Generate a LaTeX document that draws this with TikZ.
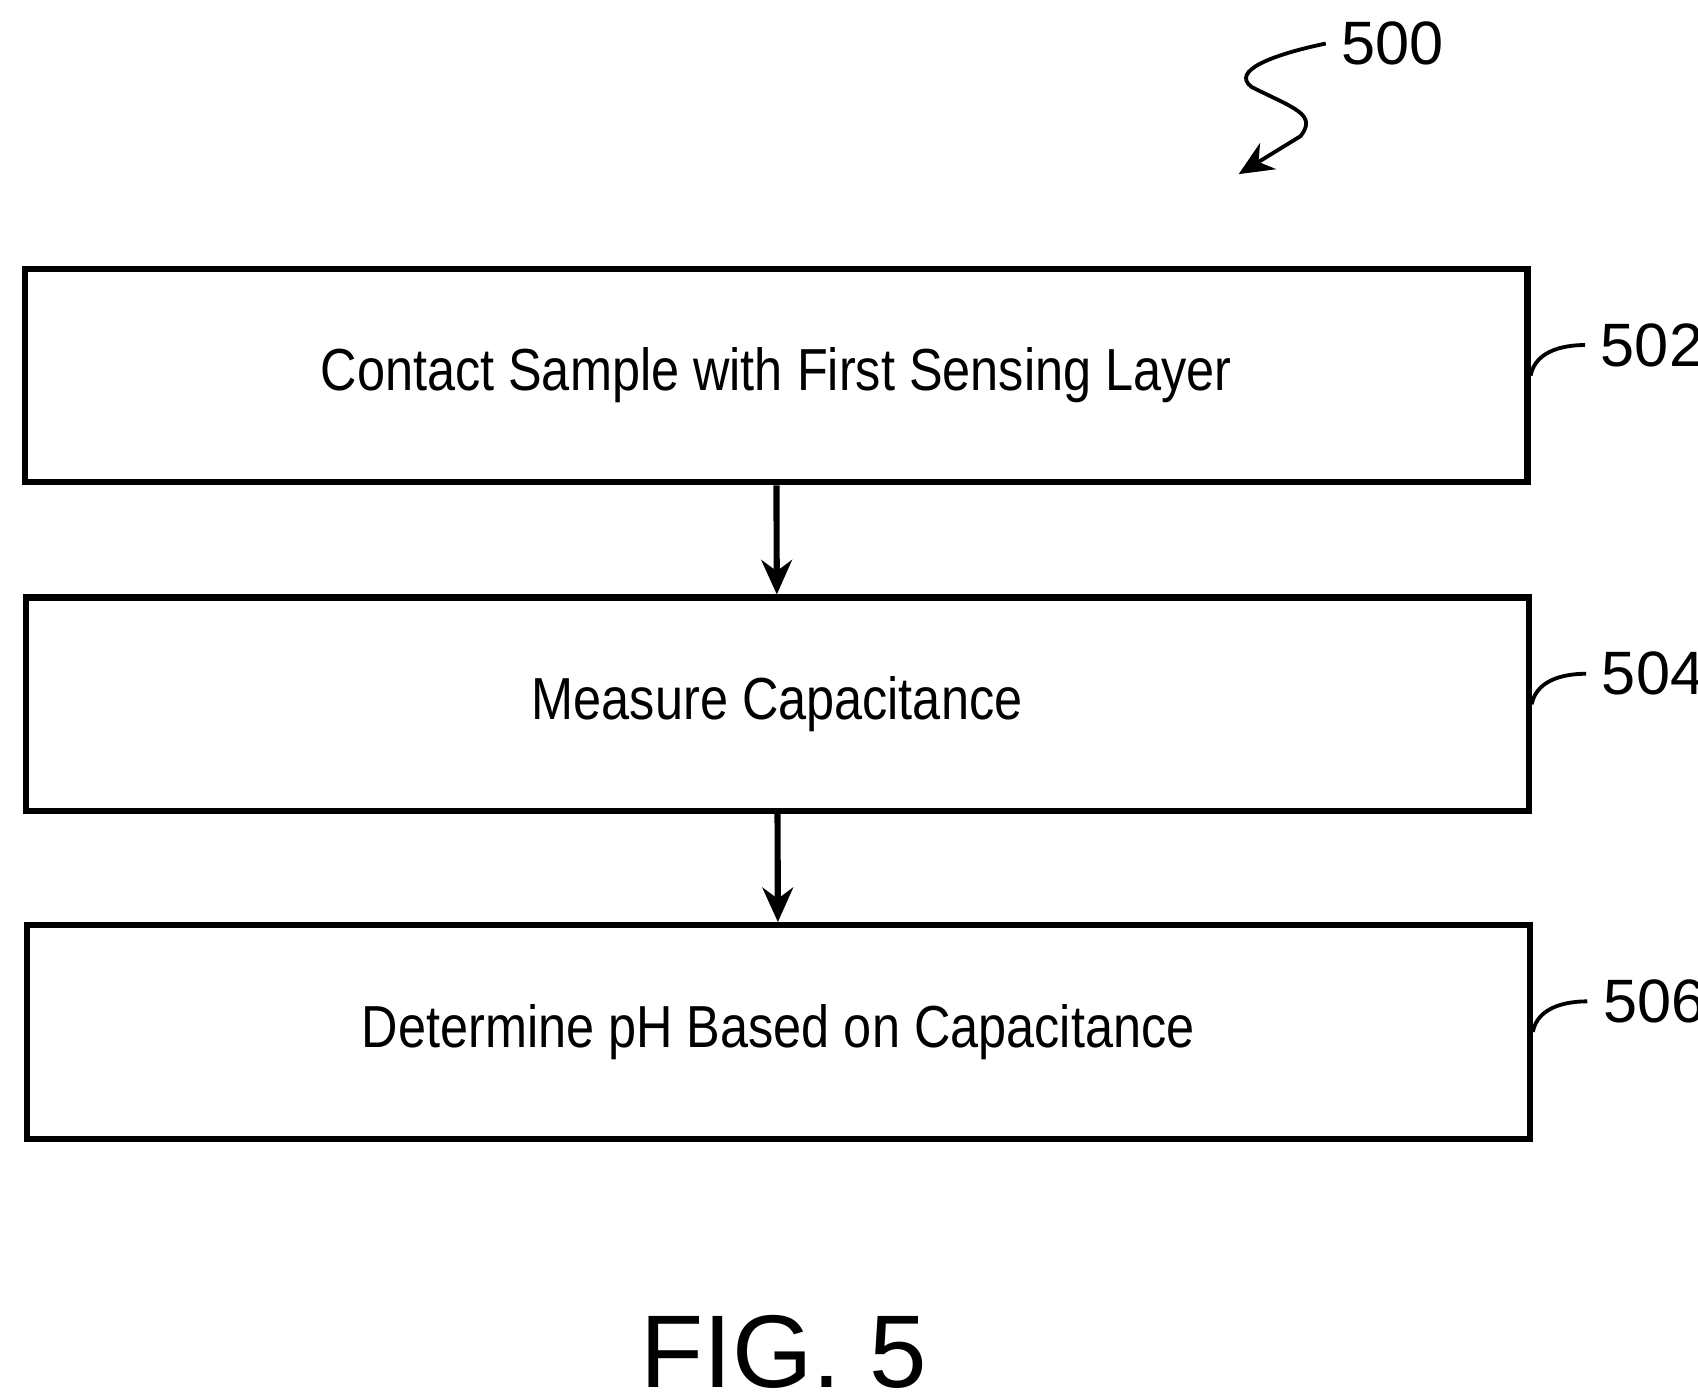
\documentclass[tikz,border=0pt]{standalone}
\usepackage{fontspec}
\setmainfont{Liberation Sans}
\newfontfamily\narrowfont[FakeStretch=0.85]{Liberation Sans}
\usetikzlibrary{arrows.meta,positioning}
\begin{document}
\begin{tikzpicture}[x=0.01cm,y=-0.01cm,line width=1.6pt,>={Stealth[length=9pt,width=8pt]}]
    \tikzstyle{process}=[draw,minimum width=13.8cm,minimum height=1.96cm,font=\narrowfont\fontsize{15.5}{19}\selectfont]
    \tikzstyle{ref}=[font=\fontsize{16}{19}\selectfont,anchor=west]
    \useasboundingbox (0,0) rectangle (1560,1285);

    % Process steps
    \node[process] (S1) at (713,345) {Contact Sample with First Sensing Layer};
    \node[process] (S2) at (714,647) {Measure Capacitance};
    \node[process] (S3) at (715,948) {Determine pH Based on Capacitance};

    % Flow arrows
    \draw[->] (S1) -- (S2);
    \draw[->] (S2) -- (S3);

    % Reference numerals
    \foreach \name / \num in {S1/502,S2/504,S3/506}{
        \node[ref] (L-\num) at ([xshift=0.5cm,yshift=0.28cm]\name.east) {\num};
        \draw[line width=1pt] (\name.east) .. controls +(5,-25) and +(-15,0) .. (L-\num.west);
    }

    \node[ref] (L500) at (1218,40) {500};
    \coordinate (tip) at (1138,160);
    \draw[->,line width=1pt] (L500.west) .. controls (1170,50) and (1130,65) .. (1150,80)
        .. controls (1190,100) and (1210,105) .. (1195,125) -- (tip);

    \node[font=\fontsize{27}{32}\selectfont] (fig) at (720,1242) {FIG. 5};
\end{tikzpicture}
\end{document}
